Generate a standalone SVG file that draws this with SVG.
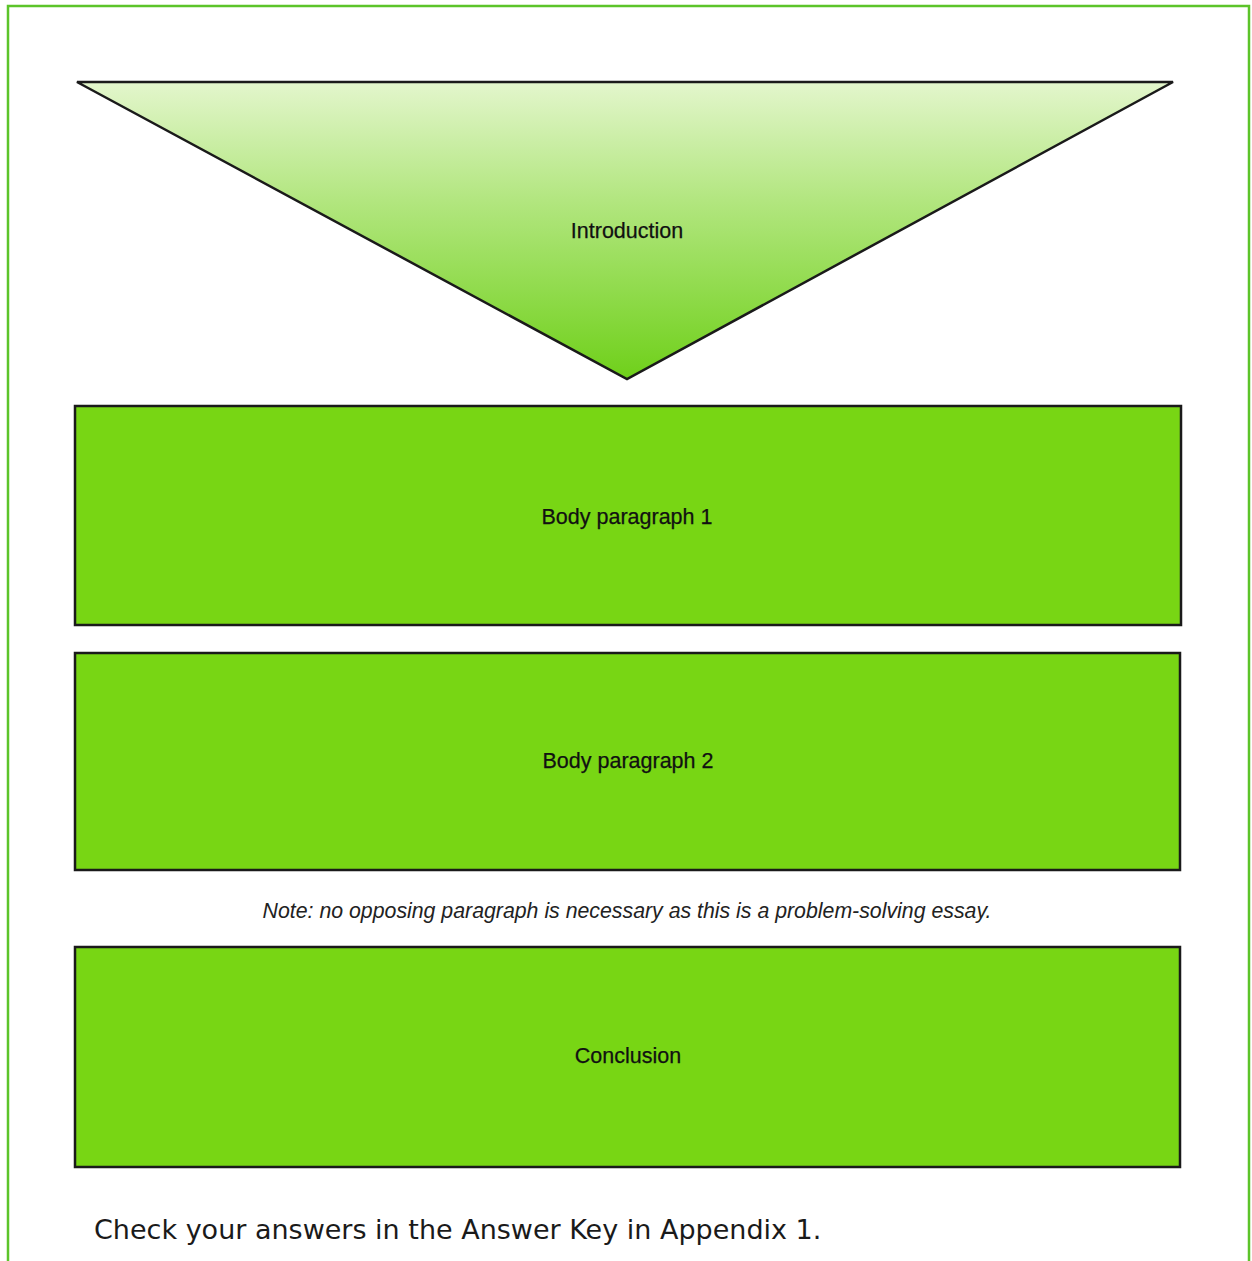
<svg xmlns="http://www.w3.org/2000/svg" width="1252" height="1261" viewBox="0 0 1252 1261">
<defs>
<linearGradient id="tri" x1="0" y1="0" x2="0" y2="1">
<stop offset="0" stop-color="#e3f6cc"/>
<stop offset="0.4" stop-color="#b2e67f"/>
<stop offset="1" stop-color="#6fd01a"/>
</linearGradient>
<style>
.box{fill:#78d614;stroke:#1a1a1a;stroke-width:2.5}
.lbl{font-family:"Liberation Sans",Arial,sans-serif;font-size:21.5px;fill:#111;text-anchor:middle;stroke:#111;stroke-width:0.25}
</style>
</defs>
<rect width="1252" height="1261" fill="#ffffff"/>
<path d="M8,1261 V6 H1249 V1261" fill="none" stroke="#5cc42a" stroke-width="2.5"/>
<g id="introduction">
<polygon points="77,82 1173,82 627,379" fill="url(#tri)" stroke="#1a1a1a" stroke-width="2.5" stroke-linejoin="miter"/>
<text class="lbl" x="627" y="238">Introduction</text>
</g>
<g id="body1">
<rect class="box" x="75" y="406" width="1106" height="219"/>
<text class="lbl" x="627" y="524">Body paragraph 1</text>
</g>
<g id="body2">
<rect class="box" x="75" y="653" width="1105" height="217"/>
<text class="lbl" x="628" y="768">Body paragraph 2</text>
</g>
<g id="note">
<text x="627" y="918" font-family="Liberation Sans,Arial,sans-serif" font-size="21.3" font-style="italic" fill="#222" text-anchor="middle">Note: no opposing paragraph is necessary as this is a problem-solving essay.</text>
</g>
<g id="conclusion">
<rect class="box" x="75" y="947" width="1105" height="220"/>
<text class="lbl" x="628" y="1063">Conclusion</text>
</g>
<g id="connectors"></g>
<text x="94" y="1239" font-family="DejaVu Sans,sans-serif" font-size="27" fill="#1a1a1a">Check your answers in the Answer Key in Appendix 1.</text>
</svg>
